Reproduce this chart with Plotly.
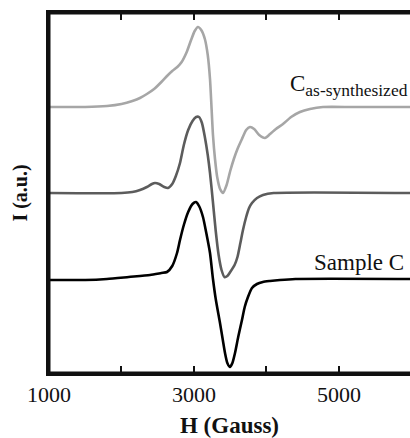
import plotly.graph_objects as go

# Field (Gauss) and signal (a.u.), per spectrum
h_as = [1000, 1500, 1800, 2000, 2150, 2255, 2350, 2450, 2550, 2628, 2700, 2770, 2830, 2900,
        2960, 3010, 3055, 3100, 3150, 3190, 3221, 3262, 3290, 3320, 3360, 3400, 3450, 3500,
        3550, 3600, 3662, 3720, 3772, 3830, 3900, 3979, 4050, 4130, 4228, 4340, 4462, 4600,
        4779, 5200, 6000]
i_as = [0, 0, 1, 3, 6, 9, 13, 18, 25, 31, 36, 40, 45, 55,
        67, 76, 80, 77, 68, 52, 28, -28, -52, -70, -82, -86, -78, -64,
        -52, -42, -32, -23, -20, -22, -28, -31, -27, -22, -17, -10, -5, -2,
        0, 0, 0]

h_mid = [1000, 2000, 2150, 2255, 2350, 2420, 2462, 2520, 2590, 2641, 2700, 2750, 2807, 2860,
         2920, 2980, 3030, 3069, 3110, 3150, 3190, 3221, 3260, 3300, 3340, 3380, 3420, 3460,
         3500, 3560, 3600, 3640, 3676, 3720, 3760, 3800, 3870, 3952, 4100, 6000]
i_mid = [0, 0, 1, 3, 6, 9, 10, 9, 6, 5, 9, 17, 30, 48,
         63, 72, 76, 76, 70, 56, 38, 20, -8, -38, -62, -77, -84, -83,
         -79, -72, -64, -50, -37, -24, -15, -10, -5, -2, 0, 0]

h_c = [1000, 1500, 1800, 2100, 2393, 2550, 2628, 2700, 2766, 2807, 2860, 2920, 2980, 3028,
       3070, 3124, 3170, 3221, 3262, 3300, 3359, 3400, 3428, 3460, 3497, 3530, 3566, 3610,
       3662, 3700, 3745, 3800, 3869, 3950, 4048, 4186, 4400, 6000]
i_c = [-1, -1, 0, 2, 4, 6, 7, 13, 26, 39, 54, 67, 75, 77,
       73, 62, 46, 26, 0, -20, -44, -62, -74, -84, -88, -84, -74, -58,
       -41, -28, -18, -9, -5, -3, -2, -1, 0, 0]

offsets = [266, 180, 94]
colors = ["#a6a6a6", "#5c5c5c", "#000000"]
names = ["C as-synthesized", "middle", "Sample C"]

tick_vals = [1000, 2000, 3000, 4000, 5000, 6000]
tick_text = ["1000", "", "3000", "", "5000", ""]

FONT = "Liberation Serif"

fig = go.Figure()
for h, i, off, col, nm in zip([h_as, h_mid, h_c], [i_as, i_mid, i_c], offsets, colors, names):
    fig.add_trace(go.Scatter(
        x=h, y=[v + off for v in i], mode="lines", name=nm,
        line=dict(color=col, width=2.6, shape="spline", smoothing=0.6),
        showlegend=False))

fig.add_annotation(x=1, xref="paper", xanchor="right", y=offsets[0] + 22, yref="y",
                   yanchor="middle", showarrow=False,
                   text="C<sub><span style='font-size:17.5px'>as-synthesized</span></sub>",
                   font=dict(family=FONT, size=23, color="#111"))
fig.add_annotation(x=0.988, xref="paper", xanchor="right", y=offsets[2] + 17, yref="y",
                   yanchor="middle", showarrow=False, text="Sample C",
                   font=dict(family=FONT, size=23, color="#111"))

# plot frame (paper coordinates), right edge lies just outside the window
fig.add_shape(type="rect", xref="paper", yref="paper", x0=0, x1=1.02, y0=0, y1=1,
              line=dict(color="#111", width=3), fillcolor="rgba(0,0,0,0)", layer="above")

fig.update_layout(
    width=410, height=438,
    margin=dict(l=49, r=0, t=13, b=65),
    plot_bgcolor="white", paper_bgcolor="white",
    font=dict(family=FONT, size=22, color="#111"),
    xaxis=dict(range=[1000, 5980], tickvals=tick_vals, ticktext=tick_text,
               ticks="inside", ticklen=7, tickwidth=2, tickcolor="#111",
               showline=True, linecolor="#111", linewidth=3, mirror="ticks",
               showgrid=False, zeroline=False,
               tickfont=dict(family=FONT, size=22),
               title=dict(text="<b>H (Gauss)</b>", font=dict(family=FONT, size=23), standoff=13)),
    yaxis=dict(range=[0, 360], showticklabels=False, ticks="",
               showline=True, linecolor="#111", linewidth=3, mirror=False,
               showgrid=False, zeroline=False,
               title=dict(text="<b>I (a.u.)</b>", font=dict(family=FONT, size=20), standoff=14)),
)

fig.write_html("out.html")
